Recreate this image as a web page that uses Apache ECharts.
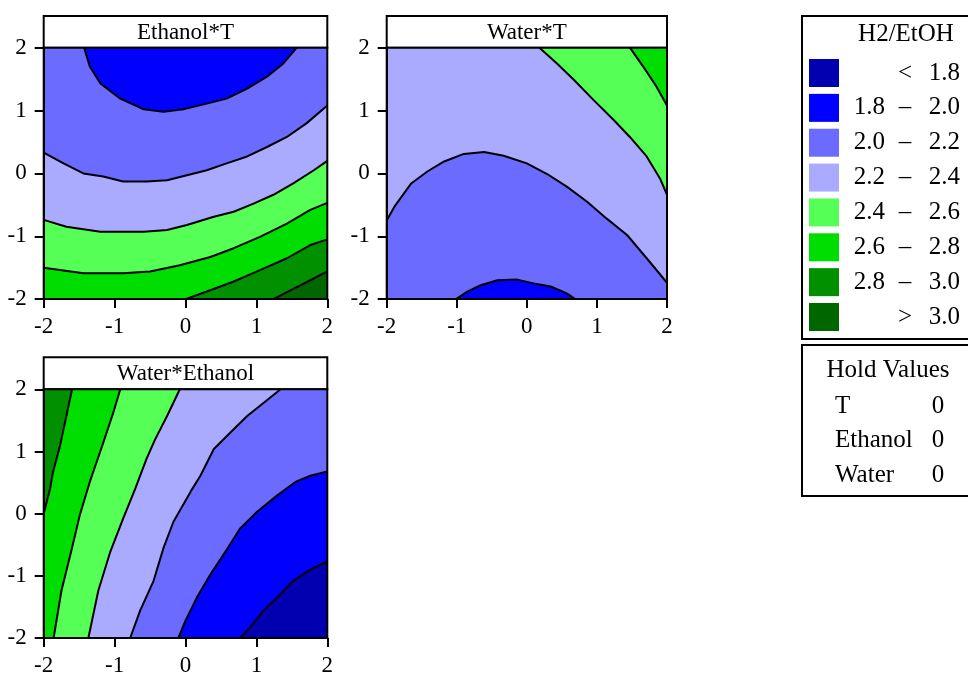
<!DOCTYPE html>
<html>
<head>
<meta charset="utf-8">
<style>
  html, body { margin: 0; padding: 0; background: #fff; }
  #chart { width: 968px; height: 677px; }
</style>
<script src="https://cdn.jsdelivr.net/npm/echarts@6/dist/echarts.min.js"></script>
</head>
<body>
<div id="chart"></div>
<script>
// H2/EtOH colour levels, lowest first
const levelColors = ['#0000b0', '#0000ff', '#6b6bff', '#aaaaff', '#55ff55', '#00dd00', '#009000', '#006600']
const levelLow = ['', '1.8', '2.0', '2.2', '2.4', '2.6', '2.8', '']
const levelSign = ['<', '–', '–', '–', '–', '–', '–', '>']
const levelHigh = ['1.8', '2.0', '2.2', '2.4', '2.6', '2.8', '3.0', '3.0']
const panelTitles = ['Ethanol*T', 'Water*T', 'Water*Ethanol']
const holdNames = ['T', 'Ethanol', 'Water']
const holdValues = ['0', '0', '0']

// contour lines, [x, y]
// Ethanol*T
const p1A = [[-1.43, 2], [-1.35, 1.70], [-1.20, 1.43], [-0.92, 1.19], [-0.59, 1.02], [-0.31, 0.98], [-0.03, 1.02], [0.30, 1.11], [0.58, 1.19], [0.87, 1.35], [1.15, 1.54], [1.38, 1.75], [1.57, 2]]
const p1B = [[-2, 0.33], [-1.72, 0.16], [-1.44, 0.0], [-1.16, -0.05], [-0.88, -0.13], [-0.55, -0.13], [-0.26, -0.11], [0.02, -0.03], [0.30, 0.05], [0.58, 0.16], [0.87, 0.27], [1.15, 0.42], [1.43, 0.58], [1.71, 0.80], [2, 1.08]]
const p1C = [[-2, -0.74], [-1.68, -0.85], [-1.2, -0.93], [-0.59, -0.93], [-0.26, -0.90], [0.02, -0.82], [0.40, -0.69], [0.68, -0.61], [0.96, -0.48], [1.24, -0.34], [1.52, -0.16], [1.81, 0.05], [2, 0.20]]
const p1D = [[-2, -1.50], [-1.44, -1.59], [-0.88, -1.59], [-0.50, -1.56], [-0.08, -1.46], [0.35, -1.33], [0.68, -1.19], [1.05, -1.01], [1.43, -0.80], [1.76, -0.58], [2, -0.47]]
const p1E = [[0, -2], [0.30, -1.88], [0.68, -1.72], [1.05, -1.54], [1.43, -1.35], [1.76, -1.14], [2, -1.05]]
const p1F = [[1.24, -2], [1.48, -1.86], [1.76, -1.70], [2, -1.56]]
// Water*T
const p2G = [[-1.01, -2], [-0.85, -1.88], [-0.66, -1.78], [-0.42, -1.70], [-0.14, -1.69], [0.10, -1.75], [0.34, -1.80], [0.57, -1.91], [0.69, -2]]
const p2H = [[-2, -0.75], [-1.89, -0.53], [-1.65, -0.16], [-1.42, 0.03], [-1.18, 0.19], [-0.90, 0.31], [-0.61, 0.34], [-0.33, 0.28], [0.0, 0.16], [0.29, -0.01], [0.57, -0.21], [0.86, -0.45], [1.14, -0.72], [1.43, -0.98], [1.71, -1.35], [2, -1.74]]
const p2I = [[0.18, 2], [0.43, 1.75], [0.67, 1.49], [0.95, 1.17], [1.24, 0.85], [1.47, 0.58], [1.71, 0.27], [1.90, -0.08], [2, -0.34]]
const p2J = [[1.47, 2], [1.66, 1.70], [1.85, 1.38], [2, 1.08]]
// Water*Ethanol
const p3K = [[-1.60, 2], [-1.68, 1.57], [-1.77, 1.09], [-1.87, 0.66], [-1.91, 0.40], [-2, 0.0]]
const p3L = [[-0.92, 2], [-1.02, 1.62], [-1.16, 1.14], [-1.35, 0.51], [-1.49, -0.02], [-1.60, -0.55], [-1.75, -1.24], [-1.86, -2]]
const p3M = [[-0.08, 2], [-0.26, 1.57], [-0.43, 1.19], [-0.55, 0.88], [-0.71, 0.40], [-0.88, -0.08], [-1.06, -0.61], [-1.23, -1.24], [-1.37, -2]]
const p3N = [[1.34, 2], [1.10, 1.78], [0.87, 1.57], [0.63, 1.30], [0.40, 1.04], [0.21, 0.61], [0.07, 0.35], [-0.17, -0.13], [-0.31, -0.55], [-0.45, -1.08], [-0.64, -1.56], [-0.78, -2]]
const p3O = [[2, 0.68], [1.76, 0.61], [1.55, 0.51], [1.29, 0.29], [1.01, 0.03], [0.77, -0.24], [0.58, -0.58], [0.35, -0.98], [0.16, -1.35], [0.0, -1.72], [-0.10, -2]]
const p3P = [[2, -0.77], [1.76, -0.90], [1.52, -1.08], [1.29, -1.35], [1.10, -1.56], [0.91, -1.83], [0.77, -2]]

const FONT = 'Liberation Serif'
const BL = [-2, -2], BR = [2, -2], TR = [2, 2], TL = [-2, 2]
const SQUARE = [BL, BR, TR, TL]

// painter's order: [line, closing corners, level]
const panels = [
  { bg: 2, lines: [[p1A, [], 1], [p1B, [BR, BL], 3], [p1C, [BR, BL], 4], [p1D, [BR, BL], 5], [p1E, [BR], 6], [p1F, [BR], 7]] },
  { bg: 3, lines: [[p2H, [BR, BL], 2], [p2G, [], 1], [p2I, [TR], 4], [p2J, [TR], 5]] },
  { bg: 6, lines: [[p3K, [BL, BR, TR], 5], [p3L, [BR, TR], 4], [p3M, [BR, TR], 3], [p3N, [BR, TR], 2], [p3O, [BR], 1], [p3P, [BR], 0]] }
]

const grids = [
  { left: 43.7, top: 47.7, width: 283.6, height: 251.4 },
  { left: 386.7, top: 47.7, width: 280.3, height: 251.4 },
  { left: 43.7, top: 389.3, width: 283.6, height: 251.7 }
]
const titleTops = [16, 16, 357.3]

function fillSeries(gi, pts, color) {
  return {
    type: 'custom',
    xAxisIndex: gi,
    yAxisIndex: gi,
    silent: true,
    z: 2,
    data: pts,
    renderItem: (params, api) => {
      if (params.dataIndex !== 0) return null
      return {
        type: 'polygon',
        shape: { points: pts.map(p => api.coord(p)) },
        style: { fill: color }
      }
    }
  }
}

function lineSeries(gi, pts) {
  return {
    type: 'line',
    xAxisIndex: gi,
    yAxisIndex: gi,
    data: pts,
    symbol: 'none',
    silent: true,
    z: 5,
    lineStyle: { color: '#000', width: 2 }
  }
}

const series = []
panels.forEach((pn, gi) => {
  series.push(fillSeries(gi, SQUARE, levelColors[pn.bg]))
  pn.lines.forEach(([pts, close, lv]) => {
    series.push(fillSeries(gi, pts.concat(close), levelColors[lv]))
  })
  pn.lines.forEach(([pts]) => series.push(lineSeries(gi, pts)))
})

const axisCommon = {
  type: 'value',
  min: -2,
  max: 2,
  interval: 1,
  z: 10,
  splitLine: { show: false },
  axisLine: { show: true, onZero: false, lineStyle: { color: '#000', width: 2 } },
  axisTick: { show: true, length: 9, lineStyle: { color: '#000', width: 2 } }
}

const graphic = []
grids.forEach((g, i) => {
  graphic.push({
    type: 'rect',
    shape: { x: g.left, y: titleTops[i], width: g.width, height: g.top - titleTops[i] },
    style: { fill: '#fff', stroke: '#000', lineWidth: 2 }
  })
  graphic.push({
    type: 'text',
    x: g.left + g.width / 2,
    y: (titleTops[i] + g.top) / 2 + 1,
    style: { text: panelTitles[i], font: '23px ' + FONT, fill: '#000', align: 'center', verticalAlign: 'middle' }
  })
})

// legend box
graphic.push({ type: 'rect', shape: { x: 802, y: 16, width: 200, height: 323 }, style: { fill: '#fff', stroke: '#000', lineWidth: 2 } })
graphic.push({ type: 'text', x: 906, y: 34, style: { text: 'H2/EtOH', font: '25px ' + FONT, fill: '#000', align: 'center', verticalAlign: 'middle' } })
levelColors.forEach((c, i) => {
  const cy = 73 + i * 34.86
  graphic.push({ type: 'rect', shape: { x: 809, y: cy - 14, width: 30, height: 28 }, style: { fill: c } })
  const txt = { font: '25px ' + FONT, fill: '#000', verticalAlign: 'middle' }
  if (levelLow[i]) graphic.push({ type: 'text', x: 885, y: cy, style: Object.assign({ text: levelLow[i], align: 'right' }, txt) })
  graphic.push({ type: 'text', x: 905, y: cy, style: Object.assign({ text: levelSign[i], align: 'center' }, txt) })
  graphic.push({ type: 'text', x: 960, y: cy, style: Object.assign({ text: levelHigh[i], align: 'right' }, txt) })
})

// hold values box
graphic.push({ type: 'rect', shape: { x: 802, y: 345, width: 200, height: 151 }, style: { fill: '#fff', stroke: '#000', lineWidth: 2 } })
graphic.push({ type: 'text', x: 888, y: 370, style: { text: 'Hold Values', font: '25px ' + FONT, fill: '#000', align: 'center', verticalAlign: 'middle' } })
const holdY = [406, 440, 475]
holdNames.forEach((n, i) => {
  graphic.push({ type: 'text', x: 835, y: holdY[i], style: { text: n, font: '25px ' + FONT, fill: '#000', align: 'left', verticalAlign: 'middle' } })
  graphic.push({ type: 'text', x: 938, y: holdY[i], style: { text: holdValues[i], font: '25px ' + FONT, fill: '#000', align: 'center', verticalAlign: 'middle' } })
})

const chart = echarts.init(document.getElementById('chart'), null, { renderer: 'canvas' })
chart.setOption({
  animation: false,
  backgroundColor: '#fff',
  grid: grids.map(g => Object.assign({ show: true, borderColor: '#000', borderWidth: 2, backgroundColor: 'transparent', z: 10 }, g)),
  xAxis: grids.map((g, i) => Object.assign({}, axisCommon, {
    gridIndex: i,
    axisLabel: { color: '#000', fontSize: 23, fontFamily: FONT, margin: 16 }
  })),
  yAxis: grids.map((g, i) => Object.assign({}, axisCommon, {
    gridIndex: i,
    axisLabel: { color: '#000', fontSize: 23, fontFamily: FONT, margin: 17 }
  })),
  series: series,
  graphic: graphic
})
</script>
</body>
</html>
